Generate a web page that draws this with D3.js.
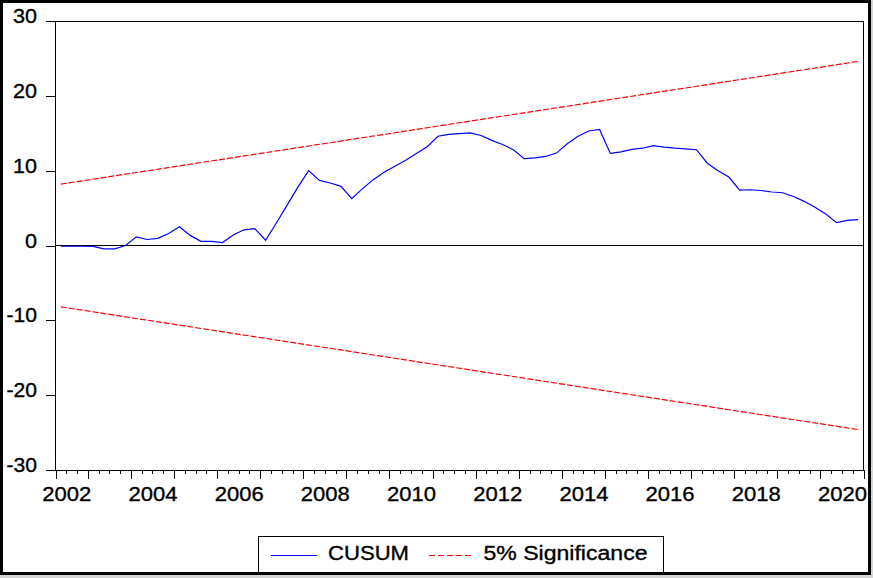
<!DOCTYPE html>
<html>
<head>
<meta charset="utf-8">
<script src="https://cdn.jsdelivr.net/npm/d3@7/dist/d3.min.js"></script>
<style>
  html, body { margin: 0; padding: 0; background: #d4d4d4; }
  svg { display: block; }
  text { font-family: Arial, "Liberation Sans", sans-serif; fill: #000; stroke: #000; stroke-width: 0.35px; }
</style>
</head>
<body>
<svg id="chart" width="873" height="578"></svg>
<script>
// ---- data (quarterly, first observation 2002Q2) ----
const startYear = 2002;
const startQuarter = 2;           // 2002Q2
const cusum = [
  -0.1, -0.1, -0.1, -0.12, -0.45, -0.45, 0.0, 1.15, 0.8, 0.95,
  1.6, 2.5, 1.35, 0.55, 0.55, 0.4, 1.4, 2.1, 2.25, 0.7,
  3.0, 5.4, 7.8, 10.0, 8.7, 8.35, 7.9, 6.25, 7.6, 8.8,
  9.8, 10.6, 11.4, 12.3, 13.2, 14.6, 14.85, 14.95, 15.05, 14.7,
  14.05, 13.5, 12.8, 11.6, 11.7, 11.9, 12.35, 13.6, 14.6, 15.3,
  15.5, 12.3, 12.5, 12.85, 13.0, 13.35, 13.15, 13.0, 12.9, 12.8,
  11.0, 10.0, 9.15, 7.4, 7.45, 7.35, 7.15, 7.05, 6.55, 5.9,
  5.1, 4.2, 3.05, 3.35, 3.45
];
// 5% significance bands: values at first and last observation (straight lines)
const bandIndex = [0, 74];
const upperBand = [8.2, 24.6];
const lowerBand = [-8.2, -24.6];
const yTicks = [-30, -20, -10, 0, 10, 20, 30];
const yearLabels = [2002, 2004, 2006, 2008, 2010, 2012, 2014, 2016, 2018, 2020];
const legendLabels = ["CUSUM", "5% Significance"];

// quarter categories derived from the start period
const quarters = cusum.map((_, i) => {
  const q = startQuarter - 1 + i;
  return (startYear + Math.floor(q / 4)) + "Q" + (q % 4 + 1);
});
const qTime = i => startYear + (startQuarter - 1) / 4 + (i + 0.5) / 4; // mid-quarter

// ---- layout ----
const svg = d3.select("#chart");
const L = 55.5, R = 863.5, T = 21, B = 470;
const domStart = startYear + (startQuarter - 1) / 4;
const domEnd = qTime(cusum.length - 1) + 0.125;

const x = d3.scaleLinear().domain([domStart, domEnd]).range([L, R]);
const y = d3.scaleLinear().domain([-30, 30]).range([B, T]);

// background + outer frame
svg.append("rect").attr("x", 1.5).attr("y", 1.5).attr("width", 868).attr("height", 572)
  .attr("fill", "#fff").attr("stroke", "#000").attr("stroke-width", 3);

// plot frame
svg.append("rect").attr("x", L).attr("y", T).attr("width", R - L).attr("height", B - T)
  .attr("fill", "none").attr("stroke", "#000").attr("stroke-width", 1)
  .attr("shape-rendering", "crispEdges");

// zero line
svg.append("line").attr("x1", L).attr("x2", R).attr("y1", y(0)).attr("y2", y(0))
  .attr("stroke", "#000").attr("stroke-width", 1).attr("shape-rendering", "crispEdges");

// y axis
const yAxis = svg.append("g").attr("transform", `translate(${L},0)`)
  .call(d3.axisLeft(y).tickValues(yTicks).tickSize(10).tickPadding(8.5)
    .tickFormat(d => String(d)));
yAxis.select(".domain").remove();
yAxis.selectAll("line").attr("shape-rendering", "crispEdges");
yAxis.selectAll("text")
  .style("font-size", "20px")
  .attr("dy", "0.08em")
  .attr("textLength", d => (d < 0 ? 6.5 : 0) + String(Math.abs(d)).length * 12)
  .attr("lengthAdjust", "spacingAndGlyphs");

// x axis: quarterly minor ticks
const qTicks = [];
for (let t = domStart + 0.25; t < domEnd - 0.01; t += 0.25) {
  if (Math.abs(t - Math.round(t)) > 0.01) qTicks.push(t);
}
const yearTicks = d3.range(Math.ceil(domStart), Math.floor(domEnd) + 1);

const xMinor = svg.append("g").attr("transform", `translate(0,${B})`)
  .call(d3.axisBottom(x).tickValues(qTicks).tickSize(4).tickFormat(""));
xMinor.select(".domain").remove();
xMinor.selectAll("line").attr("shape-rendering", "crispEdges");

const xMajor = svg.append("g").attr("transform", `translate(0,${B})`)
  .call(d3.axisBottom(x).tickValues([domStart, ...yearTicks, domEnd]).tickSize(9).tickFormat(""));
xMajor.select(".domain").remove();
xMajor.selectAll("line").attr("shape-rendering", "crispEdges");

// year labels centered on the year interval
const xLab = svg.append("g").attr("transform", `translate(0,${B})`)
  .call(d3.axisBottom(x).tickValues(yearLabels.map(v => v + 0.5)).tickSize(0)
    .tickPadding(17).tickFormat(d => String(Math.floor(d))));
xLab.select(".domain").remove();
xLab.selectAll("text")
  .style("font-size", "20px")
  .attr("textLength", 49)
  .attr("lengthAdjust", "spacingAndGlyphs");

// bands
const bandLine = d3.line().x(d => x(qTime(d[0]))).y(d => y(d[1]));
svg.append("path")
  .datum(bandIndex.map((b, k) => [b, upperBand[k]]))
  .attr("d", bandLine).attr("fill", "none")
  .attr("stroke", "#ff0000").attr("stroke-width", 1.2).attr("stroke-dasharray", "6,2");
svg.append("path")
  .datum(bandIndex.map((b, k) => [b, lowerBand[k]]))
  .attr("d", bandLine).attr("fill", "none")
  .attr("stroke", "#ff0000").attr("stroke-width", 1.2).attr("stroke-dasharray", "6,2");

// CUSUM line
svg.append("path")
  .datum(cusum.map((v, i) => [i, v]))
  .attr("d", d3.line().x(d => x(qTime(d[0]))).y(d => y(d[1])))
  .attr("fill", "none").attr("stroke", "#0000ff").attr("stroke-width", 1.2);

// legend
const lg = svg.append("g");
lg.append("rect").attr("x", 258.5).attr("y", 536.5).attr("width", 405).attr("height", 37)
  .attr("fill", "#fff").attr("stroke", "#000").attr("stroke-width", 1);
lg.append("line").attr("x1", 271).attr("x2", 317).attr("y1", 555.5).attr("y2", 555.5)
  .attr("stroke", "#0000ff").attr("stroke-width", 1);
lg.append("text").attr("x", 328).attr("y", 559.5).style("font-size", "20px")
  .attr("textLength", 81).attr("lengthAdjust", "spacingAndGlyphs").text(legendLabels[0]);
lg.append("line").attr("x1", 429).attr("x2", 473).attr("y1", 555.5).attr("y2", 555.5)
  .attr("stroke", "#ff0000").attr("stroke-width", 1).attr("stroke-dasharray", "6,3");
lg.append("text").attr("x", 483.5).attr("y", 559.5).style("font-size", "20px")
  .attr("textLength", 164).attr("lengthAdjust", "spacingAndGlyphs").text(legendLabels[1]);

// redraw outer frame on top so legend meets it cleanly
svg.append("rect").attr("x", 1.5).attr("y", 1.5).attr("width", 868).attr("height", 572)
  .attr("fill", "none").attr("stroke", "#000").attr("stroke-width", 3);
</script>
</body>
</html>
